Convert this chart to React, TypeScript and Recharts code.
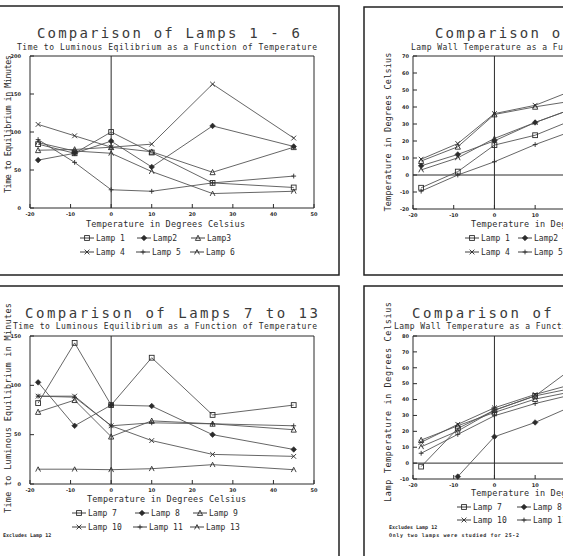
import React from 'react';
import { LineChart, Line, XAxis, YAxis, ReferenceLine } from 'recharts';

const temps = [-18, -9, 0, 10, 25, 45];
const xTicks = [-20, -10, 0, 10, 20, 30, 40, 50];
// the right-hand panels are cropped by the page edge, only these ticks show
const xTicksCropped = [-20, -10, 0, 10];

// time to luminous equilibrium (minutes), lamps 1-6
const eqLamp1 = [84, 72, 100, 73, 33, 27];
const eqLamp2 = [63, 72, 88, 54, 108, 81];
const eqLamp3 = [76, 77, 80, 74, 47, 80];
const eqLamp4 = [110, 95, 80, 84, 163, 92];
const eqLamp5 = [90, 60, 24, 22, 33, 42];
const eqLamp6 = [86, 75, 72, 48, 19, 22];

// time to luminous equilibrium (minutes), lamps 7-13
const eqLamp7 = [82, 143, 80, 128, 70, 80];
const eqLamp8 = [103, 59, 80, 79, 50, 35];
const eqLamp9 = [73, 85, 48, 64, 61, 55];
const eqLamp10 = [89, 89, 59, 44, 30, 28];
const eqLamp11 = [89, 88, 59, 62, 61, 59];
const eqLamp13 = [15, 15, 14.5, 15.5, 19.6, 14.5];

// lamp wall temperature (deg C), lamps 1-6
const wtLamp1 = [-7.5, 2, 17.6, 23.4, 38, 50];
const wtLamp2 = [5.4, 12.1, 20.1, 30.9, 44, 55];
const wtLamp3 = [8.2, 16.6, 35.6, 40.1, 45.7, 52];
const wtLamp4 = [9.3, 18.5, 36.1, 41, 55.2, 65];
const wtLamp5 = [-9.5, 0, 7.8, 17.9, 31, 45];
const wtLamp6 = [3, 10.1, 21.5, 30.9, 44, 55];

// lamp wall temperature (deg C), lamps 7-13
const wtLamp7 = [-2.2, 21.8, 33.3, 42.3, 70.8, 75];
const wtLamp8 = [null, -8.5, 16.6, 25.6, 42.5, 50];
const wtLamp9 = [14.5, 23.5, 31.9, 40.3, 48, 55];
const wtLamp10 = [13.1, 24.4, 34.8, 43.2, 53.7, 60];
const wtLamp11 = [6.2, 18.1, 29.8, 37.5, 46.7, 54];
const wtLamp13 = [10.3, 20.2, 33.3, 42.3, 50.2, 57];

const markers = ['square', 'diamond', 'triangle', 'cross', 'plus', 'caret'];

const INK = '#2b2b2b';
const LINE = '#555';
const MONO = '"DejaVu Sans Mono", monospace';

function Marker({ kind, x, y }: { kind: string; x: number; y: number }) {
  const s = 2.4;
  const st = { stroke: INK, strokeWidth: 0.9, fill: 'none' };
  switch (kind) {
    case 'square':
      return <rect x={x - s} y={y - s} width={2 * s} height={2 * s} {...st} />;
    case 'diamond':
      return <path d={`M${x},${y - s - 0.4}L${x + s + 0.4},${y}L${x},${y + s + 0.4}L${x - s - 0.4},${y}Z`} fill={INK} stroke={INK} strokeWidth={0.6} />;
    case 'triangle':
      return <path d={`M${x},${y - s - 0.4}L${x + s + 0.2},${y + s}L${x - s - 0.2},${y + s}Z`} {...st} />;
    case 'cross':
      return <path d={`M${x - s},${y - s}L${x + s},${y + s}M${x - s},${y + s}L${x + s},${y - s}`} {...st} />;
    case 'plus':
      return <path d={`M${x - s},${y}L${x + s},${y}M${x},${y - s}L${x},${y + s}`} {...st} />;
    default:
      return <path d={`M${x - s},${y + s}L${x},${y - s}L${x + s},${y + s}`} {...st} />;
  }
}

const makeDot = (kind: string) => (props: any) => {
  const { cx, cy, index, value } = props;
  if (cx == null || cy == null || value == null) return <g key={`e${index}`} />;
  return (
    <g key={`d${index}`}>
      <Marker kind={kind} x={cx} y={cy} />
    </g>
  );
};

type PanelProps = {
  left: number;
  top: number;
  plotW: number;
  plotH: number;
  yDomain: [number, number];
  yTicks: number[];
  series: (number | null)[][];
  zeroLine?: boolean;
  yTickGap: number;
  ticks?: number[];
};

function Panel({ left, top, plotW, plotH, yDomain, yTicks, series, zeroLine, yTickGap, ticks = xTicks }: PanelProps) {
  const data = temps.map((t, i) => {
    const row: Record<string, number | null> = { t };
    series.forEach((vals, k) => {
      row['s' + k] = vals[i];
    });
    return row;
  });
  const tickStyle = { fontSize: 5, fill: INK, fontFamily: '"DejaVu Sans", sans-serif', fontWeight: 700 };
  return (
    <div style={{ position: 'absolute', left: left - 30, top: top - 10 }}>
      <LineChart width={plotW + 40} height={plotH + 30} data={data} margin={{ top: 10, right: 10, bottom: 0, left: 0 }}>
        <XAxis
          dataKey="t"
          type="number"
          domain={[-20, 50]}
          ticks={ticks}
          interval={0}
          height={20}
          tickSize={-4}
          tickMargin={8}
          tick={tickStyle}
          axisLine={{ stroke: INK, strokeWidth: 1 }}
          tickLine={{ stroke: INK }}
        />
        <YAxis
          type="number"
          domain={yDomain}
          ticks={yTicks}
          interval={0}
          width={30}
          tickSize={-4}
          tickMargin={yTickGap + 4}
          tick={tickStyle}
          axisLine={{ stroke: INK, strokeWidth: 1 }}
          tickLine={{ stroke: INK }}
        />
        <ReferenceLine x={50} stroke={INK} strokeWidth={1} />
        <ReferenceLine y={yDomain[1]} stroke={INK} strokeWidth={1} />
        <ReferenceLine x={0} stroke={INK} strokeWidth={1} />
        {zeroLine && <ReferenceLine y={0} stroke={INK} strokeWidth={1} />}
        {series.map((_, k) => (
          <Line
            key={k}
            dataKey={'s' + k}
            stroke={LINE}
            strokeWidth={0.9}
            dot={makeDot(markers[k])}
            activeDot={false}
            isAnimationActive={false}
          />
        ))}
      </LineChart>
    </div>
  );
}

function T({ x, y, len, size, children, bold, fill = INK }: { x: number; y: number; len?: number; size: number; children: string; bold?: boolean; fill?: string }) {
  return (
    <text
      x={x}
      y={y}
      fontSize={size}
      fontFamily={MONO}
      fontWeight={bold ? 700 : 400}
      fill={fill}
      textLength={len}
      lengthAdjust={len ? 'spacing' : undefined}
    >
      {children}
    </text>
  );
}

function VT({ x, y, len, children }: { x: number; y: number; len: number; children: string }) {
  return (
    <text
      transform={`translate(${x},${y}) rotate(-90)`}
      textAnchor="middle"
      fontSize={8.5}
      fontFamily={MONO}
      fill={INK}
      textLength={len}
      lengthAdjust="spacing"
    >
      {children}
    </text>
  );
}

function LegendItem({ x, y, kind, label }: { x: number; y: number; kind: string; label: string }) {
  return (
    <g>
      <line x1={x} y1={y} x2={x + 14} y2={y} stroke={INK} strokeWidth={0.9} />
      <Marker kind={kind} x={x + 7} y={y} />
      <text x={x + 16} y={y + 2.8} fontSize={8} fontFamily={MONO} fill={INK}>
        {label}
      </text>
    </g>
  );
}

const legendA = ['Lamp 1', 'Lamp2', 'Lamp3', 'Lamp 4', 'Lamp 5', 'Lamp 6'];
const legendB = ['Lamp 7', 'Lamp 8', 'Lamp 9', 'Lamp 10', 'Lamp 11', 'Lamp 13'];

// cols: how many of the three legend columns fall inside the cropped page
function Legend6({ xs, ys, labels, cols = 3 }: { xs: number[][]; ys: number[]; labels: string[]; cols?: number }) {
  return (
    <g>
      {labels.map((lab, i) => {
        const r = Math.floor(i / 3);
        const c = i % 3;
        if (c >= cols) return null;
        return <LegendItem key={lab} x={xs[r][c]} y={ys[r]} kind={markers[i]} label={lab} />;
      })}
    </g>
  );
}

export default function App() {
  return (
    <div style={{ position: 'absolute', left: 0, top: 0, width: 563, height: 556, overflow: 'hidden', background: '#fff' }}>
      <Panel left={30} top={56} plotW={284} plotH={152} yDomain={[0, 200]} yTicks={[0, 50, 100, 150, 200]} yTickGap={9}
        series={[eqLamp1, eqLamp2, eqLamp3, eqLamp4, eqLamp5, eqLamp6]} />
      <Panel left={30} top={336} plotW={284} plotH={148} yDomain={[0, 150]} yTicks={[0, 50, 100, 150]} yTickGap={9}
        series={[eqLamp7, eqLamp8, eqLamp9, eqLamp10, eqLamp11, eqLamp13]} />
      <Panel left={413} top={56} plotW={285} plotH={153} yDomain={[-20, 70]} yTicks={[-20, -10, 0, 10, 20, 30, 40, 50, 60, 70]} yTickGap={4}
        series={[wtLamp1, wtLamp2, wtLamp3, wtLamp4, wtLamp5, wtLamp6]} zeroLine ticks={xTicksCropped} />
      <Panel left={413} top={336} plotW={285} plotH={143} yDomain={[-10, 80]} yTicks={[-10, 0, 10, 20, 30, 40, 50, 60, 70, 80]} yTickGap={4}
        series={[wtLamp7, wtLamp8, wtLamp9, wtLamp10, wtLamp11, wtLamp13]} zeroLine ticks={xTicksCropped} />

      <svg width={563} height={556} style={{ position: 'absolute', left: 0, top: 0, pointerEvents: 'none' }}>
        <g stroke="#222" strokeWidth={1.5} fill="none">
          <path d="M0,6H339V275H0" />
          <path d="M0,286H339V556" />
          <path d="M563,7H364V275H563" />
          <path d="M563,286H364V556" />
        </g>

        <T x={37} y={38} len={263} size={14} fill="#3a3a3a">Comparison of Lamps 1 - 6</T>
        <T x={17} y={50} len={300} size={8}>Time to Luminous Eqilibrium as a Function of Temperature</T>
        <T x={25} y={318} len={293} size={14} fill="#3a3a3a">Comparison of Lamps 7 to 13</T>
        <T x={13} y={329} len={304} size={8}>Time to Luminous Equilibrium as a Function of Temperature</T>
        <T x={435} y={38} len={263} size={14} fill="#3a3a3a">Comparison of Lamps 1 - 6</T>
        <T x={411} y={50} len={262} size={8}>Lamp Wall Temperature as a Function of Temperature</T>
        <T x={412} y={318} len={293} size={14} fill="#3a3a3a">Comparison of Lamps 7 to 13</T>
        <T x={394} y={329} len={262} size={8}>Lamp Wall Temperature as a Function of Temperature</T>

        <T x={86} y={227} len={159} size={8.5}>Temperature in Degrees Celsius</T>
        <T x={87} y={502} len={159} size={8.5}>Temperature in Degrees Celsius</T>
        <T x={471} y={227} len={159} size={8.5}>Temperature in Degrees Celsius</T>
        <T x={471} y={496} len={159} size={8.5}>Temperature in Degrees Celsius</T>

        <VT x={11} y={124} len={138}>Time to Equilibrium in Minutes</VT>
        <VT x={11} y={408} len={210}>Time to Luminous Equilibrium in Minutes</VT>
        <VT x={391} y={132} len={159}>Temperature in Degrees Celsius</VT>
        <VT x={391} y={402} len={200}>Lamp Temperature in Degrees Celsius</VT>

        <Legend6 xs={[[80, 137, 191], [80, 136, 190]]} ys={[238, 252]} labels={legendA} />
        <Legend6 xs={[[72, 135, 193], [72, 133, 190]]} ys={[513, 527]} labels={legendB} />
        <Legend6 xs={[[465, 518, 575], [465, 518, 575]]} ys={[238, 252]} labels={legendA} cols={2} />
        <Legend6 xs={[[457, 517, 575], [457, 517, 575]]} ys={[507, 520]} labels={legendB} cols={2} />

        <T x={3} y={537} size={5} bold>Excludes Lamp 12</T>
        <T x={389} y={529} size={5} bold>Excludes Lamp 12</T>
        <T x={389} y={537} len={130} size={5} bold>Only two lamps were studied for 25-2</T>
      </svg>
    </div>
  );
}
